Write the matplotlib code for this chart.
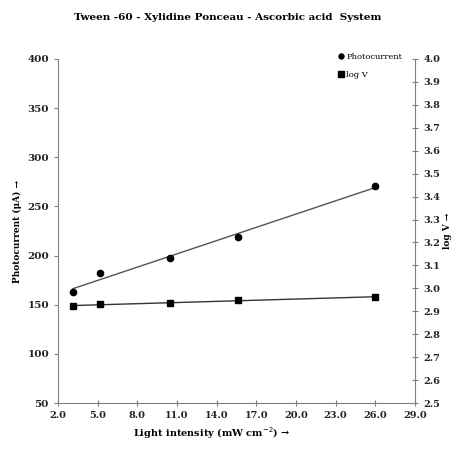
import numpy as np
import matplotlib
matplotlib.use("Agg")
import matplotlib.pyplot as plt

# data
intensity = [3.1, 5.2, 10.5, 15.6, 26.0]
photocurrent = [163, 182, 198, 219, 271]
log_v = [2.923, 2.930, 2.936, 2.949, 2.962]

x_ticks = [2.0, 5.0, 8.0, 11.0, 14.0, 17.0, 20.0, 23.0, 26.0, 29.0]
left_ticks = [50, 100, 150, 200, 250, 300, 350, 400]
right_ticks = [2.5 + 0.1 * i for i in range(16)]

plt.rcParams['font.family'] = ['DejaVu Serif']
axis_col = '#7f7f7f'

fig = plt.figure(figsize=(4.55, 4.49), dpi=100)
ax = fig.add_axes([0.1275, 0.1024, 0.7845, 0.7662])
ax2 = ax.twinx()

# trend lines (least squares) and points
p1 = np.polyfit(intensity, photocurrent, 1)
p2 = np.polyfit(intensity, log_v, 1)
xs = np.array([intensity[0], intensity[-1]])
ax.plot(xs, np.polyval(p1, xs), color='#555555', lw=1.0, zorder=2)
ax2.plot(xs, np.polyval(p2, xs), color='#333333', lw=1.0, zorder=2)
ax.plot(intensity, photocurrent, 'o', color='black', ms=4.5, zorder=3, label='Photocurrent')
ax2.plot(intensity, log_v, 's', color='black', ms=5, zorder=3, label='log V')

ax.set_xlim(2, 29)
ax.set_ylim(50, 400)
ax2.set_ylim(2.5, 4.0)
ax.set_xticks(x_ticks)
ax.set_xticklabels(['%.1f' % v for v in x_ticks])
ax.set_yticks(left_ticks)
ax2.set_yticks(right_ticks)
ax2.set_yticklabels(['%.1f' % v for v in right_ticks])

for a in (ax, ax2):
    for s in a.spines.values():
        s.set_color(axis_col)
    a.spines['top'].set_visible(False)
ax.spines['right'].set_visible(False)
ax2.spines['left'].set_visible(False)
ax2.spines['bottom'].set_visible(False)

ax.tick_params(axis='x', direction='inout', length=5, color=axis_col, labelsize=7, pad=3)
ax.tick_params(axis='y', direction='out', length=3, color=axis_col, labelsize=7.5)
ax2.tick_params(axis='y', direction='inout', length=5, color=axis_col, labelsize=7)
for lab in ax.get_xticklabels() + ax.get_yticklabels() + ax2.get_yticklabels():
    lab.set_fontweight('bold')
    lab.set_color('#222222')

ax.set_ylabel('Photocurrent (\u03bcA) \u2192', fontsize=6.5, fontweight='bold', labelpad=4)
ax2.set_ylabel('log V \u2192', fontsize=6.5, fontweight='bold', labelpad=2)
fig.text(0.466, 0.017, 'Light intensity (mW cm$^{-2}$) \u2192', fontsize=7, fontweight='bold',
         ha='center', va='bottom')
fig.text(0.5, 0.96, 'Tween -60 - Xylidine Ponceau - Ascorbic acid  System', fontsize=7.5,
         fontweight='bold', ha='center', va='center')

h1, l1 = ax.get_legend_handles_labels()
h2, l2 = ax2.get_legend_handles_labels()
leg = ax2.legend(h1 + h2, l1 + l2, loc='upper right', bbox_to_anchor=(0.985, 1.04), frameon=False,
                 fontsize=6, handlelength=0.6, handletextpad=0.3, markerscale=0.8,
                 labelspacing=1.2)

fig.savefig('out.png', dpi=100)
